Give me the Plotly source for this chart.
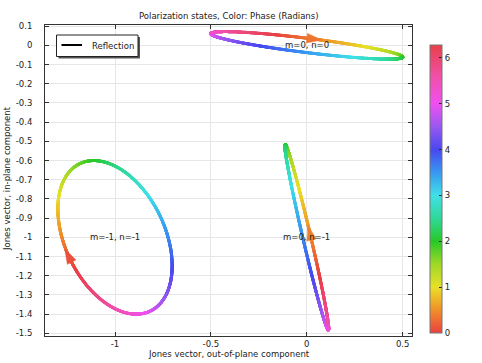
import numpy as np
import plotly.graph_objects as go
from plotly.colors import sample_colorscale

# ---- data -------------------------------------------------------------
# diffraction orders (centre of each polarization ellipse)
m_orders = [0, -1, 0]
n_orders = [0, -1, -1]
order_labels = ["m=0, n=0", "m=-1, n=-1", "m=0, n=-1"]
# Jones vector components (amplitude, phase) per order
amp_out = [0.50, 0.298, 0.114]      # out-of-plane component
phase_out = [1.90, 3.95, 5.33]
amp_in = [0.0716, 0.40, 0.482]      # in-plane component
phase_in = [-0.69, 2.00, 2.00]
arrow_phase = [0.33, 0.10, 0.40]    # phase where direction arrow sits

x_tick_vals = [-1, -0.5, 0, 0.5]
x_tick_text = ["-1", "-0.5", "0", "0.5"]
y_tick_vals = [0.1, 0, -0.1, -0.2, -0.3, -0.4, -0.5, -0.6, -0.7, -0.8,
               -0.9, -1.0, -1.1, -1.2, -1.3, -1.4, -1.5]
y_tick_text = ["0.1", "0", "-0.1", "-0.2", "-0.3", "-0.4", "-0.5", "-0.6",
               "-0.7", "-0.8", "-0.9", "-1", "-1.1", "-1.2", "-1.3", "-1.4",
               "-1.5"]
cbar_ticks = [0, 1, 2, 3, 4, 5, 6]

TWO_PI = 2 * np.pi
cscale = [
    [0.0, "#e84040"], [0.5 / TWO_PI, "#f09028"], [1.0 / TWO_PI, "#e8e028"],
    [1.5 / TWO_PI, "#a0d828"], [2.0 / TWO_PI, "#28c828"],
    [2.5 / TWO_PI, "#30d898"], [3.0 / TWO_PI, "#40e0e8"],
    [3.5 / TWO_PI, "#3898f0"], [4.0 / TWO_PI, "#4848f0"],
    [4.5 / TWO_PI, "#9858f0"], [5.0 / TWO_PI, "#f050f0"],
    [5.6 / TWO_PI, "#f050a8"], [1.0, "#e84048"],
]

FONT = "DejaVu Sans"
FS = 8.5
W, H = 482, 363
L, R, T, B = 45, 70, 25, 27
XR = [-1.365, 0.5485]
YR = [-1.514, 0.106]
pw, ph = W - L - R, H - T - B
ppx = pw / (XR[1] - XR[0])
ppy = ph / (YR[1] - YR[0])


def PX(px):
    return (px - L) / pw


def PY(py):
    return (H - B - py) / ph


fig = go.Figure()
phi = np.linspace(0, TWO_PI, 1500)
arrow_traces = []
for i in range(len(m_orders)):
    x = m_orders[i] + amp_out[i] * np.cos(phi - phase_out[i])
    y = n_orders[i] + amp_in[i] * np.cos(phi - phase_in[i])
    fig.add_trace(go.Scatter(
        x=x, y=y, mode="markers", showlegend=False, hoverinfo="skip",
        marker=dict(size=3, color=phi, colorscale=cscale, cmin=0, cmax=TWO_PI,
                    line=dict(width=0),
                    showscale=(i == 0),
                    colorbar=dict(
                        thickness=12, lenmode="pixels", len=288,
                        x=PX(430), xanchor="left", y=PY(189), yanchor="middle",
                        xpad=0, ypad=0, outlinecolor="#777", outlinewidth=1,
                        ticks="inside", ticklen=3, tickcolor="#222",
                        tickvals=cbar_ticks,
                        tickfont=dict(family=FONT, size=FS, color="#222"),
                    ))))
    # direction arrow (triangle) at arrow_phase
    pa = arrow_phase[i]
    cx = m_orders[i] + amp_out[i] * np.cos(pa - phase_out[i])
    cy = n_orders[i] + amp_in[i] * np.cos(pa - phase_in[i])
    tx = -amp_out[i] * np.sin(pa - phase_out[i]) * ppx
    ty = -amp_in[i] * np.sin(pa - phase_in[i]) * ppy
    nrm = np.hypot(tx, ty)
    tx, ty = tx / nrm, ty / nrm
    Lp, Wp = 15.0, 4.8
    pts_px = [(tx * Lp, ty * Lp), (-ty * Wp, tx * Wp), (ty * Wp, -tx * Wp)]
    ax_ = [cx + p[0] / ppx for p in pts_px]
    ay_ = [cy + p[1] / ppy for p in pts_px]
    col = sample_colorscale(cscale, [pa / TWO_PI])[0]
    arrow_traces.append(go.Scatter(
        x=ax_ + [ax_[0]], y=ay_ + [ay_[0]], mode="lines", fill="toself",
        fillcolor=col, line=dict(width=0.5, color=col), showlegend=False,
        hoverinfo="skip"))
    fig.add_annotation(x=m_orders[i], y=n_orders[i], text=order_labels[i],
                       showarrow=False, xanchor="center", yanchor="middle",
                       font=dict(family=FONT, size=FS, color="#222"))
for tr in arrow_traces:
    fig.add_trace(tr)

axis_common = dict(showgrid=True, gridcolor="#e6e6e6", gridwidth=1,
                   zeroline=False, showline=True, linecolor="#333",
                   linewidth=1, mirror="ticks", ticks="inside", ticklen=4,
                   tickcolor="#333",
                   tickfont=dict(family=FONT, size=FS, color="#222"))
fig.update_xaxes(range=XR, tickvals=x_tick_vals, ticktext=x_tick_text,
                 **axis_common)
fig.update_yaxes(range=YR, tickvals=y_tick_vals, ticktext=y_tick_text,
                 ticklabelstandoff=10, **axis_common)

txt = dict(showarrow=False, xref="paper", yref="paper", xanchor="center",
           yanchor="middle")
# titles
fig.add_annotation(x=PX(228.5), y=PY(16),
                   text="Polarization states, Color: Phase (Radians)",
                   font=dict(family=FONT, size=FS, color="#222"), **txt)
fig.add_annotation(x=PX(229), y=PY(354),
                   text="Jones vector, out-of-plane component",
                   font=dict(family=FONT, size=FS, color="#222"), **txt)
fig.add_annotation(x=PX(7), y=PY(179),
                   text="Jones vector, in-plane component", textangle=-90,
                   font=dict(family=FONT, size=FS, color="#222"), **txt)

# legend (box with shadow, line sample, label)
shapes = [
    dict(type="rect", xref="paper", yref="paper", x0=PX(58.5), x1=PX(140),
         y0=PY(58.5), y1=PY(37), fillcolor="#555", line=dict(width=0)),
    dict(type="rect", xref="paper", yref="paper", x0=PX(56.5), x1=PX(138),
         y0=PY(56.5), y1=PY(35), fillcolor="white",
         line=dict(color="#222", width=1)),
    dict(type="line", xref="paper", yref="paper", x0=PX(61.5), x1=PX(82),
         y0=PY(45), y1=PY(45), line=dict(color="black", width=2)),
]
fig.add_annotation(x=PX(89.5), y=PY(45.5), text="Reflection",
                   font=dict(family=FONT, size=FS, color="#222"),
                   **{**txt, "xanchor": "left"})

fig.update_layout(width=W, height=H, autosize=False,
                  margin=dict(l=L, r=R, t=T, b=B, pad=0),
                  paper_bgcolor="white", plot_bgcolor="white",
                  shapes=shapes, showlegend=False)
fig.write_html("out.html", config={"displayModeBar": False},
               post_script="document.body.style.margin='0';"
                           "document.body.style.padding='0';")
